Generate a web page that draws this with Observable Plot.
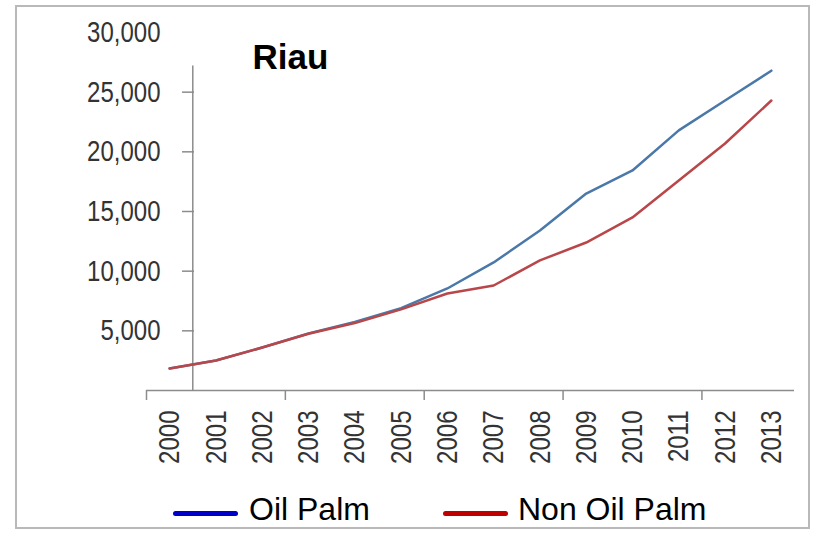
<!DOCTYPE html>
<html>
<head>
<meta charset="utf-8">
<script src="https://cdn.jsdelivr.net/npm/d3@7"></script>
<script src="https://cdn.jsdelivr.net/npm/@observablehq/plot@0.6"></script>
<style>
  body { margin: 0; background: #fff; }
  #wrap { position: relative; width: 819px; height: 539px; overflow: hidden; font-family: "Liberation Sans", Arial, sans-serif; background: #fff; }
  #chart { position: absolute; left: 0; top: 0; }
  #frame { position: absolute; left: 15px; top: 5px; width: 791px; height: 520px; border: 2px solid #b9b9b9; pointer-events: none; }
  .sw { position: absolute; height: 5px; width: 65px; border-radius: 3px; }
  .lt { position: absolute; font-size: 32px; line-height: 32px; color: #000; white-space: nowrap; }
</style>
</head>
<body>
<div id="wrap">
  <div id="chart"></div>
  <div id="legend"></div>
  <div id="frame"></div>
</div>
<script>
// ---- data ----
const years = [2000, 2001, 2002, 2003, 2004, 2005, 2006, 2007, 2008, 2009, 2010, 2011, 2012, 2013];
const oilPalm = [1840, 2510, 3600, 4780, 5750, 6900, 8550, 10730, 13400, 16500, 18440, 21800, 24300, 26800];
const nonOilPalm = [1840, 2510, 3600, 4750, 5650, 6800, 8130, 8800, 10900, 12400, 14500, 17600, 20700, 24300];
const seriesNames = ["Oil Palm", "Non Oil Palm"];
const yTickValues = [5000, 10000, 15000, 20000, 25000, 30000];
const xTickBoundaries = [1999.5, 2002.5, 2005.5, 2008.5, 2011.5];
const chartTitle = "Riau";

// ---- styles ----
const lineColors = ["#4a78a8", "#b9474a"];
const legendColors = ["#0000c8", "#c00000"];
const axisGray = "#8c8c8c";
const labelGray = "#333";
const yAxisCross = 2000.5;
const yAxisTop = 27200;

const rowsOil = years.map((year, i) => ({ year, value: oilPalm[i], series: seriesNames[0] }));
const rowsNon = years.map((year, i) => ({ year, value: nonOilPalm[i], series: seriesNames[1] }));

const plot = Plot.plot({
  width: 819,
  height: 480,
  marginLeft: 146,
  marginRight: 25,
  marginTop: 32,
  marginBottom: 90,
  style: { fontFamily: "'Liberation Sans', Arial, sans-serif", background: "transparent", overflow: "visible" },
  x: { type: "linear", domain: [1999.5, 2013.5] },
  y: { domain: [0, 30000] },
  marks: [
    Plot.ruleY([0], { stroke: axisGray, strokeWidth: 1.5 }),
    Plot.ruleX([yAxisCross], { y1: 0, y2: yAxisTop, stroke: axisGray, strokeWidth: 1.5 }),
    Plot.axisX(xTickBoundaries, { tickSize: 10, fill: "none", stroke: axisGray, strokeWidth: 1.5, label: null }),
    Plot.axisX(years, { tickSize: 0, tickPadding: 20, tickRotate: -90, fontSize: 30, fill: labelGray, label: null, tickFormat: d => String(d) }),
    Plot.axisY(yTickValues.filter(v => v < 30000), { tickSize: 12, dx: 48, fill: "none", stroke: axisGray, strokeWidth: 1.5, label: null }),
    Plot.axisY(yTickValues, { tickSize: 0, tickPadding: 0, dx: 14, fontSize: 30, fill: labelGray, label: null, tickFormat: d3.format(",") }),
    Plot.line(rowsOil, { x: "year", y: "value", stroke: lineColors[0], strokeWidth: 2.5 }),
    Plot.line(rowsNon, { x: "year", y: "value", stroke: lineColors[1], strokeWidth: 2.5 }),
    Plot.text([chartTitle], { frameAnchor: "top-left", dx: 106, dy: 25, lineAnchor: "middle", fontSize: 35, fontWeight: "bold", fill: "#000" })
  ]
});

// condense the axis tick labels horizontally (narrow font in the original)
plot.querySelectorAll('g[aria-label="y-axis tick label"] text, g[aria-label="x-axis tick label"] text').forEach(t => {
  const tr = t.getAttribute("transform");
  if (tr) t.setAttribute("transform", tr + " scale(0.8,1)");
});

document.getElementById("chart").appendChild(plot);

// legend (HTML, below the chart)
const legend = document.getElementById("legend");
const swLeft = [173, 443];
const txLeft = [249, 518];
seriesNames.forEach((name, i) => {
  const sw = document.createElement("div");
  sw.className = "sw";
  sw.style.left = swLeft[i] + "px";
  sw.style.top = "511px";
  sw.style.background = legendColors[i];
  legend.appendChild(sw);
  const tx = document.createElement("div");
  tx.className = "lt";
  tx.style.left = txLeft[i] + "px";
  tx.style.top = "493px";
  tx.textContent = name;
  legend.appendChild(tx);
});
</script>
</body>
</html>
